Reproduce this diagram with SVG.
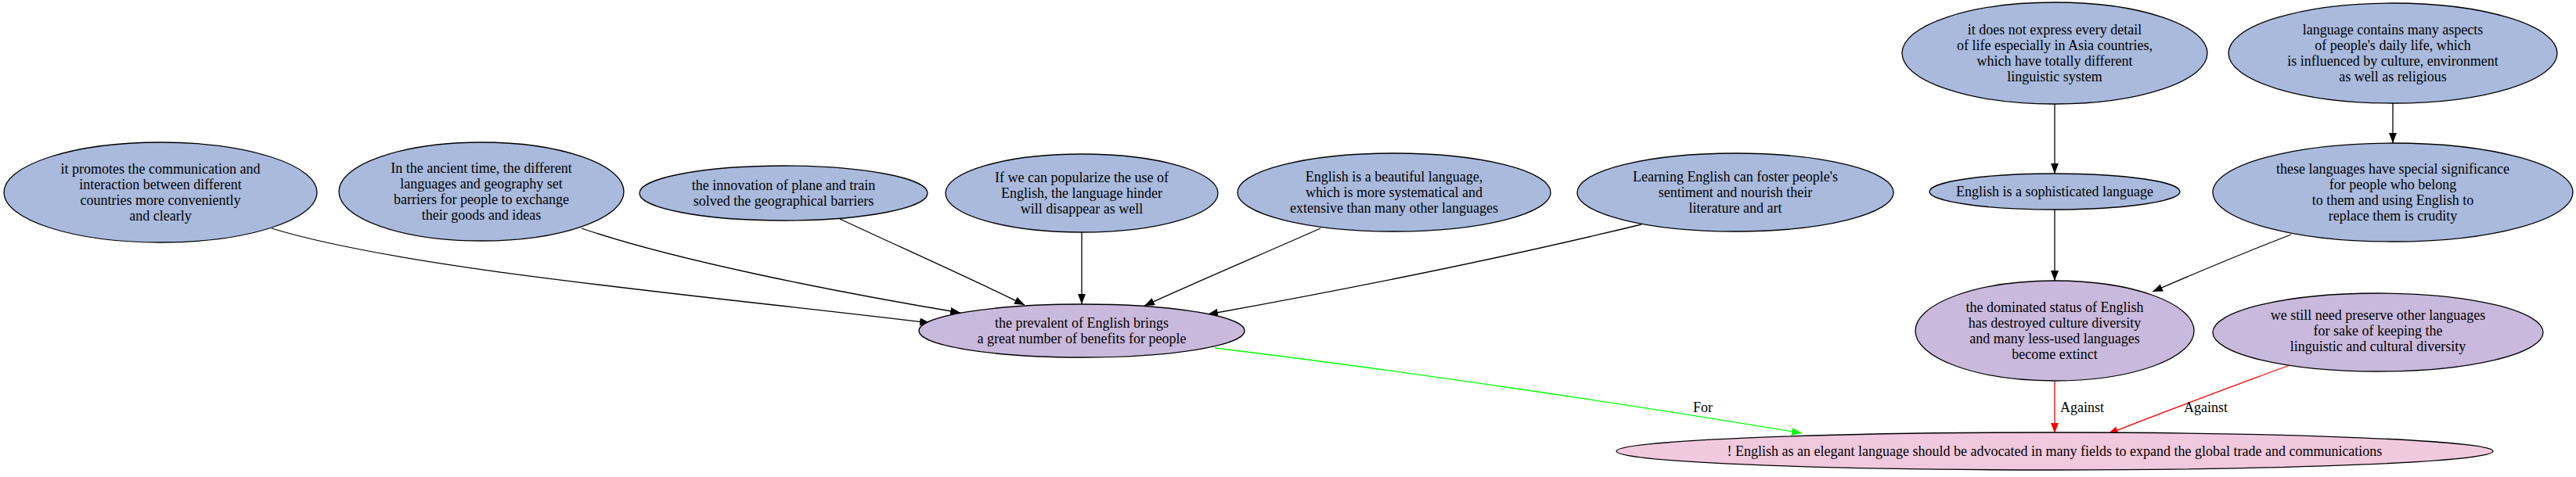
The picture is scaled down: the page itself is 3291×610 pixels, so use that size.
<svg xmlns="http://www.w3.org/2000/svg" width="3291" height="610" viewBox="0 0 3291 610">
<style>
  .bg { fill: #ffffff; }
  .nb ellipse { fill: #a9badd; stroke: #000; stroke-width: 1.3; }
  .np ellipse { fill: #c9b9dc; stroke: #000; stroke-width: 1.3; }
  .nk ellipse { fill: #f1c9de; stroke: #000; stroke-width: 1.3; }
  text { font-family: "Liberation Serif", "Times New Roman", serif; font-size: 18px; fill: #000; text-anchor: middle; }
  .e { fill: none; stroke: #000; stroke-width: 1.3; }
  .er { fill: none; stroke: #ff0000; stroke-width: 1.3; }
  .eg { fill: none; stroke: #00ff00; stroke-width: 1.3; }
  .lbl { text-anchor: start; }
</style>
<defs>
  <marker id="ab" markerUnits="userSpaceOnUse" markerWidth="14" markerHeight="12" refX="13" refY="5" orient="auto"><path d="M0,0 L13,5 L0,10 z" fill="#000"/></marker>
  <marker id="ar" markerUnits="userSpaceOnUse" markerWidth="14" markerHeight="12" refX="13" refY="5" orient="auto"><path d="M0,0 L13,5 L0,10 z" fill="#ff0000"/></marker>
  <marker id="ag" markerUnits="userSpaceOnUse" markerWidth="14" markerHeight="12" refX="13" refY="5" orient="auto"><path d="M0,0 L13,5 L0,10 z" fill="#00ff00"/></marker>
</defs>
<rect class="bg" x="0" y="0" width="3291" height="610"/>

<g id="edges">
  <path class="e" marker-end="url(#ab)" d="M347,292 C520,345 900,378 1188,413"/>
  <path class="e" marker-end="url(#ab)" d="M743,292 C860,332 1060,372 1227,400"/>
  <path class="e" marker-end="url(#ab)" d="M1073,280 C1150,316 1240,356 1309,390"/>
  <path class="e" marker-end="url(#ab)" d="M1382,297 L1382,389"/>
  <path class="e" marker-end="url(#ab)" d="M1687,292 C1610,326 1530,360 1462,391"/>
  <path class="e" marker-end="url(#ab)" d="M2097,287 C1920,330 1720,370 1543,402"/>
  <path class="e" marker-end="url(#ab)" d="M2625,133 L2625,222"/>
  <path class="e" marker-end="url(#ab)" d="M3057,132 L3057,183"/>
  <path class="e" marker-end="url(#ab)" d="M2625,268 L2625,359"/>
  <path class="e" marker-end="url(#ab)" d="M2927,300 C2870,322 2810,347 2750,373"/>
  <path class="eg" marker-end="url(#ag)" d="M1552,445 C1800,475 2100,520 2302,554"/>
  <path class="er" marker-end="url(#ar)" d="M2625,488 L2625,554"/>
  <path class="er" marker-end="url(#ar)" d="M2925,467 C2850,495 2760,528 2693,555"/>
  <text class="lbl" x="2163" y="527">For</text>
  <text class="lbl" x="2632" y="527">Against</text>
  <text class="lbl" x="2790" y="527">Against</text>
</g>

<g id="n1" class="nb"><ellipse cx="205" cy="246" rx="200" ry="64"/>
  <text x="205" y="222">it promotes the communication and</text>
  <text x="205" y="242">interaction between different</text>
  <text x="205" y="262">countries more conveniently</text>
  <text x="205" y="282">and clearly</text></g>
<g id="n2" class="nb"><ellipse cx="615" cy="245" rx="182" ry="63"/>
  <text x="615" y="221">In the ancient time, the different</text>
  <text x="615" y="241">languages and geography set</text>
  <text x="615" y="261">barriers for people to exchange</text>
  <text x="615" y="281">their goods and ideas</text></g>
<g id="n3" class="nb"><ellipse cx="1001" cy="247" rx="184" ry="35"/>
  <text x="1001" y="243">the innovation of plane and train</text>
  <text x="1001" y="263">solved the geographical barriers</text></g>
<g id="n4" class="nb"><ellipse cx="1382" cy="247" rx="174" ry="50"/>
  <text x="1382" y="233">If we can popularize the use of</text>
  <text x="1382" y="253">English, the language hinder</text>
  <text x="1382" y="273">will disappear as well</text></g>
<g id="n5" class="nb"><ellipse cx="1781" cy="246" rx="200" ry="50"/>
  <text x="1781" y="232">English is a beautiful language,</text>
  <text x="1781" y="252">which is more systematical and</text>
  <text x="1781" y="272">extensive than many other languages</text></g>
<g id="n6" class="nb"><ellipse cx="2217" cy="246" rx="202" ry="50"/>
  <text x="2217" y="232">Learning English can foster people's</text>
  <text x="2217" y="252">sentiment and nourish their</text>
  <text x="2217" y="272">literature and art</text></g>
<g id="n7" class="nb"><ellipse cx="2625" cy="68" rx="195" ry="65"/>
  <text x="2625" y="44">it does not express every detail</text>
  <text x="2625" y="64">of life especially in Asia countries,</text>
  <text x="2625" y="84">which have totally different</text>
  <text x="2625" y="104">linguistic system</text></g>
<g id="n8" class="nb"><ellipse cx="3057" cy="68" rx="210" ry="64"/>
  <text x="3057" y="44">language contains many aspects</text>
  <text x="3057" y="64">of people's daily life, which</text>
  <text x="3057" y="84">is influenced by culture, environment</text>
  <text x="3057" y="104">as well as religious</text></g>
<g id="n9" class="nb"><ellipse cx="2625" cy="245" rx="160" ry="23"/>
  <text x="2625" y="251">English is a sophisticated language</text></g>
<g id="n10" class="nb"><ellipse cx="3057" cy="246" rx="230" ry="63"/>
  <text x="3057" y="222">these languages have special significance</text>
  <text x="3057" y="242">for people who belong</text>
  <text x="3057" y="262">to them and using English to</text>
  <text x="3057" y="282">replace them is crudity</text></g>
<g id="n11" class="np"><ellipse cx="2625" cy="423" rx="178" ry="64"/>
  <text x="2625" y="399">the dominated status of English</text>
  <text x="2625" y="419">has destroyed culture diversity</text>
  <text x="2625" y="439">and many less-used languages</text>
  <text x="2625" y="459">become extinct</text></g>
<g id="n12" class="np"><ellipse cx="3038" cy="425" rx="211" ry="50"/>
  <text x="3038" y="409">we still need preserve other languages</text>
  <text x="3038" y="429">for sake of keeping the</text>
  <text x="3038" y="449">linguistic and cultural diversity</text></g>
<g id="n13" class="np"><ellipse cx="1382" cy="423" rx="208" ry="34"/>
  <text x="1382" y="419">the prevalent of English brings</text>
  <text x="1382" y="439">a great number of benefits for people</text></g>
<g id="n14" class="nk"><ellipse cx="2625" cy="577" rx="560" ry="24"/>
  <text x="2625" y="583">! English as an elegant language should be advocated in many fields to expand the global trade and communications</text></g>
</svg>
